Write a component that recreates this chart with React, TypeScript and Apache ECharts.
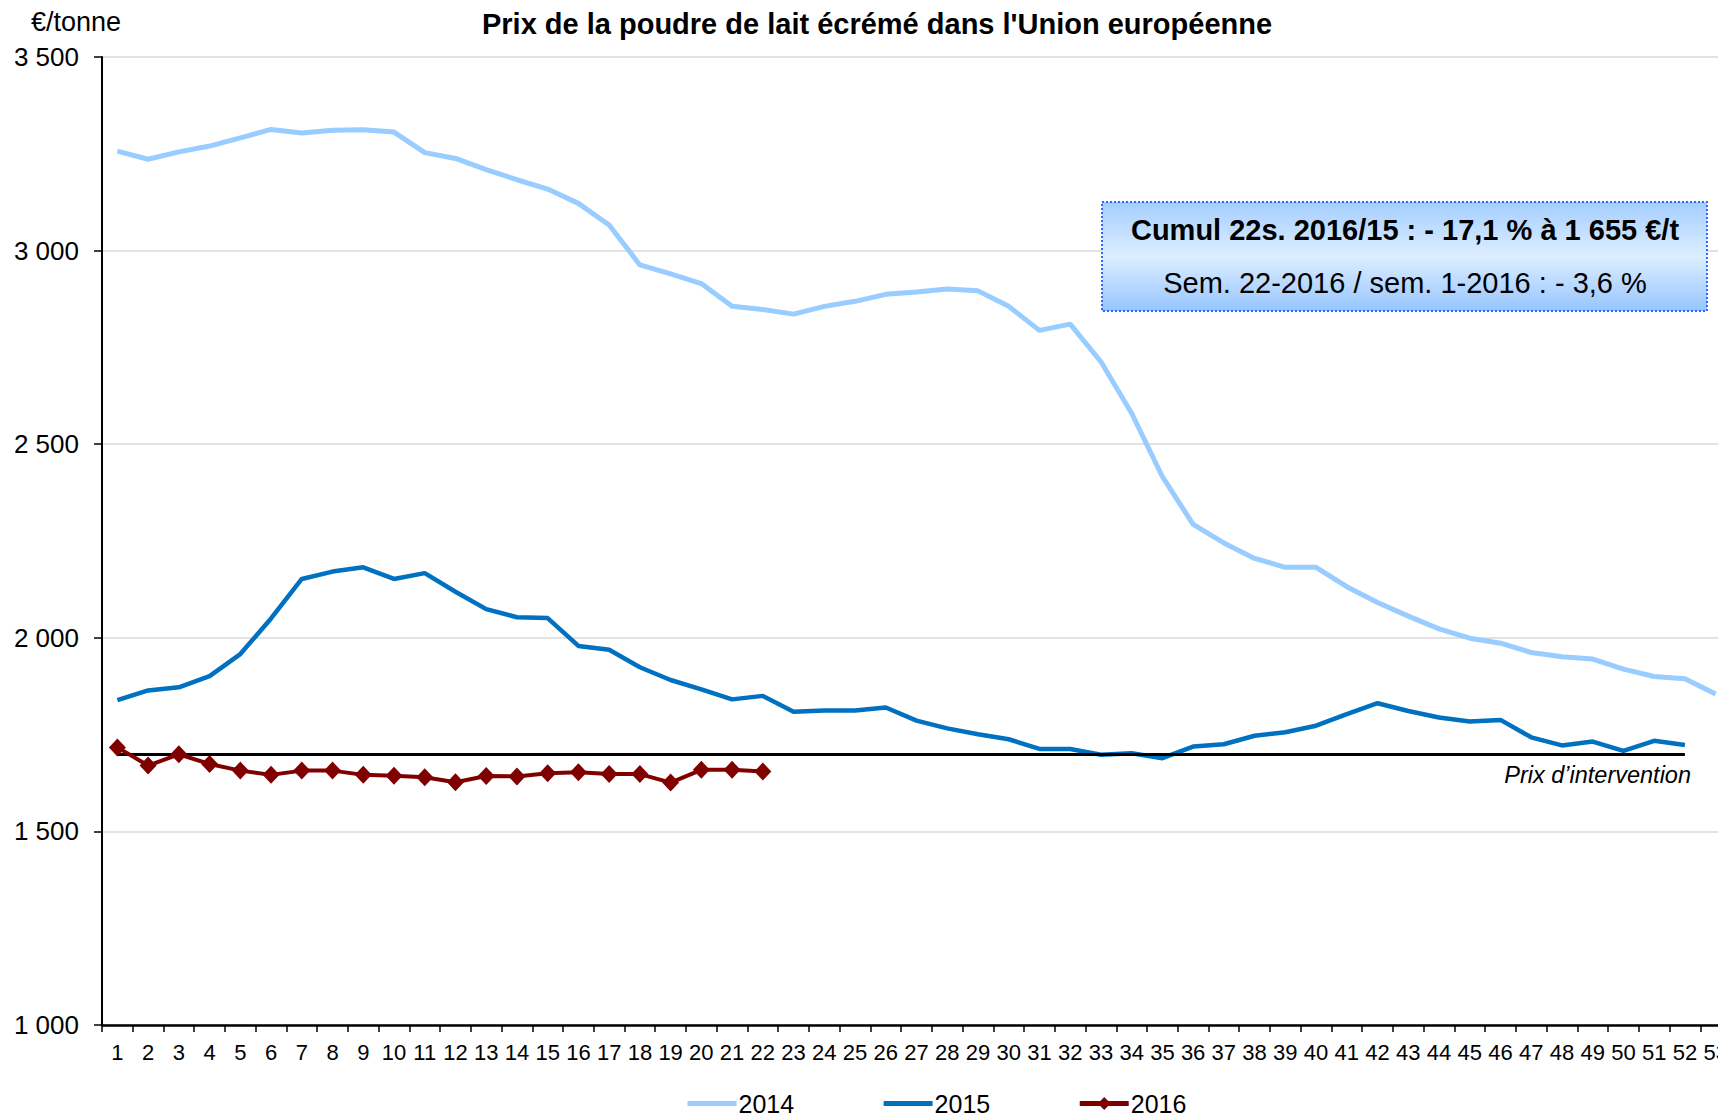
import React, { useEffect, useRef } from "react";
import * as echarts from "echarts";

const WEEKS = [
  "1", "2", "3", "4", "5", "6", "7", "8", "9", "10",
  "11", "12", "13", "14", "15", "16", "17", "18", "19", "20",
  "21", "22", "23", "24", "25", "26", "27", "28", "29", "30",
  "31", "32", "33", "34", "35", "36", "37", "38", "39", "40",
  "41", "42", "43", "44", "45", "46", "47", "48", "49", "50",
  "51", "52", "53",
];

const PRICES_2014 = [
  3257, 3236, 3255, 3270, 3291, 3313, 3304, 3311, 3312, 3306,
  3253, 3238, 3209, 3183, 3159, 3122, 3066, 2963, 2940, 2915,
  2856, 2848, 2836, 2856, 2869, 2887, 2893, 2901, 2896, 2856,
  2794, 2810, 2713, 2580, 2416, 2293, 2245, 2205, 2182, 2182,
  2132, 2091, 2056, 2023, 1999, 1986, 1962, 1951, 1945, 1919,
  1900, 1894, 1855,
];

const PRICES_2015 = [
  1839, 1864, 1872, 1901, 1958, 2050, 2152, 2171, 2182, 2152,
  2167, 2119, 2074, 2053, 2051, 1979, 1969, 1924, 1891, 1867,
  1841, 1850, 1809, 1812, 1812, 1820, 1786, 1766, 1751, 1738,
  1713, 1713, 1698, 1702, 1689, 1719, 1725, 1747, 1756, 1773,
  1803, 1831, 1811, 1794, 1784, 1788, 1743, 1722, 1732, 1708,
  1734, 1723,
];

const PRICES_2016 = [
  1717, 1670, 1699, 1674, 1657, 1646, 1657, 1657, 1646, 1644,
  1640, 1627, 1643, 1642, 1650, 1653, 1648, 1648, 1626, 1659,
  1659, 1655,
];

const INTERVENTION_PRICE = 1698;
const INTERVENTION_FROM = "1";
const INTERVENTION_TO = "52";

const TITLE = "Prix de la poudre de lait écrémé dans l'Union européenne";
const UNIT = "€/tonne";
const NOTE_1 = "Cumul 22s. 2016/15 : - 17,1 % à 1 655 €/t";
const NOTE_2 = "Sem. 22-2016 / sem. 1-2016 : - 3,6 %";
const INTERVENTION_LABEL = "Prix d’intervention";

const FONT = "Liberation Sans, Arial, sans-serif";

export default function App() {
  const ref = useRef<HTMLDivElement | null>(null);

  useEffect(() => {
    if (!ref.current) return;
    const chart = echarts.init(ref.current, undefined, { renderer: "svg" });

    const fmt = (v: number) => {
      const s = String(Math.round(v));
      return s.replace(/\B(?=(\d{3})+(?!\d))/g, " ");
    };

    const hiddenSymbol = { color: "rgba(0,0,0,0)", borderWidth: 0, opacity: 0 };

    chart.setOption({
      animation: false,
      backgroundColor: "#ffffff",
      textStyle: { fontFamily: FONT, color: "#000" },
      grid: { left: 102, top: 57, right: -13, bottom: 92, outerBoundsMode: "none", containLabel: false },
      legend: {
        data: [
          { name: "2014", itemStyle: hiddenSymbol },
          { name: "2015", itemStyle: hiddenSymbol },
          { name: "2016" },
        ],
        left: 680,
        top: 1086,
        itemWidth: 49,
        itemHeight: 16,
        itemGap: 87,
        lineStyle: { width: 5 },
        textStyle: { fontSize: 25, color: "#000", fontFamily: FONT, padding: [0, 0, 0, -3] },
      },
      xAxis: {
        type: "category",
        data: WEEKS,
        boundaryGap: true,
        axisLine: { lineStyle: { color: "#000", width: 2.5 } },
        axisTick: { show: true, length: 7, interval: 0, lineStyle: { color: "#000", width: 1.5 } },
        axisLabel: { interval: 0, fontSize: 22, margin: 16, color: "#000", fontFamily: FONT },
        splitLine: { show: false },
      },
      yAxis: {
        type: "value",
        min: 1000,
        max: 3500,
        interval: 500,
        axisLine: { show: true, lineStyle: { color: "#000", width: 2 } },
        axisTick: { show: true, length: 8, lineStyle: { color: "#000", width: 1.5 } },
        axisLabel: { fontSize: 26, margin: 23, color: "#000", fontFamily: FONT, formatter: fmt },
        splitLine: { show: true, lineStyle: { color: "#D9D9D9", width: 1.5 } },
      },
      series: [
        {
          name: "2014",
          type: "line",
          data: PRICES_2014,
          symbol: "none",
          showSymbol: false,
          lineStyle: { color: "#99CCFF", width: 5 },
          itemStyle: { color: "#99CCFF" },
          z: 2,
        },
        {
          name: "2015",
          type: "line",
          data: PRICES_2015,
          symbol: "none",
          showSymbol: false,
          lineStyle: { color: "#0070C0", width: 4.5 },
          itemStyle: { color: "#0070C0" },
          z: 3,
          markLine: {
            silent: true,
            symbol: ["none", "none"],
            label: { show: false },
            lineStyle: { color: "#000", width: 3, type: "solid" },
            data: [
              [
                { coord: [INTERVENTION_FROM, INTERVENTION_PRICE] },
                { coord: [INTERVENTION_TO, INTERVENTION_PRICE] },
              ],
            ],
            z: 4,
          },
        },
        {
          name: "2016",
          type: "line",
          data: PRICES_2016,
          symbol: "diamond",
          symbolSize: [17, 18],
          showSymbol: true,
          lineStyle: { color: "#800000", width: 4 },
          itemStyle: { color: "#800000" },
          z: 5,
        },
      ],
      graphic: [
        {
          type: "text",
          x: 877,
          y: 24,
          style: {
            text: TITLE,
            font: `bold 29px ${FONT}`,
            fill: "#000",
            align: "center",
            verticalAlign: "middle",
            textAlign: "center",
            textVerticalAlign: "middle",
          },
        },
        {
          type: "text",
          x: 31,
          y: 22,
          style: {
            text: UNIT,
            font: `27px ${FONT}`,
            fill: "#000",
            align: "left",
            verticalAlign: "middle",
            textAlign: "left",
            textVerticalAlign: "middle",
          },
        },
        {
          type: "rect",
          shape: { x: 1102, y: 202, width: 605, height: 109 },
          style: {
            fill: new echarts.graphic.LinearGradient(0, 0, 0, 1, [
              { offset: 0, color: "#A4CEFF" },
              { offset: 0.5, color: "#DDEEFF" },
              { offset: 1, color: "#96C5FF" },
            ]),
            stroke: "#3366FF",
            lineWidth: 2,
            lineDash: [2, 2],
          },
          z: 10,
        },
        {
          type: "text",
          x: 1405,
          y: 230,
          z: 11,
          style: {
            text: NOTE_1,
            font: `bold 29px ${FONT}`,
            fill: "#000",
            align: "center",
            verticalAlign: "middle",
            textAlign: "center",
            textVerticalAlign: "middle",
          },
        },
        {
          type: "text",
          x: 1405,
          y: 283,
          z: 11,
          style: {
            text: NOTE_2,
            font: `29px ${FONT}`,
            fill: "#000",
            align: "center",
            verticalAlign: "middle",
            textAlign: "center",
            textVerticalAlign: "middle",
          },
        },
        {
          type: "text",
          x: 1691,
          y: 775,
          z: 11,
          style: {
            text: INTERVENTION_LABEL,
            font: `italic 23.5px ${FONT}`,
            fill: "#000",
            align: "right",
            verticalAlign: "middle",
            textAlign: "right",
            textVerticalAlign: "middle",
          },
        },
      ],
    });

    return () => {
      chart.dispose();
    };
  }, []);

  return (
    <div
      ref={ref}
      style={{ position: "fixed", left: 0, top: 0, width: 1718, height: 1117, overflow: "hidden" }}
    />
  );
}
